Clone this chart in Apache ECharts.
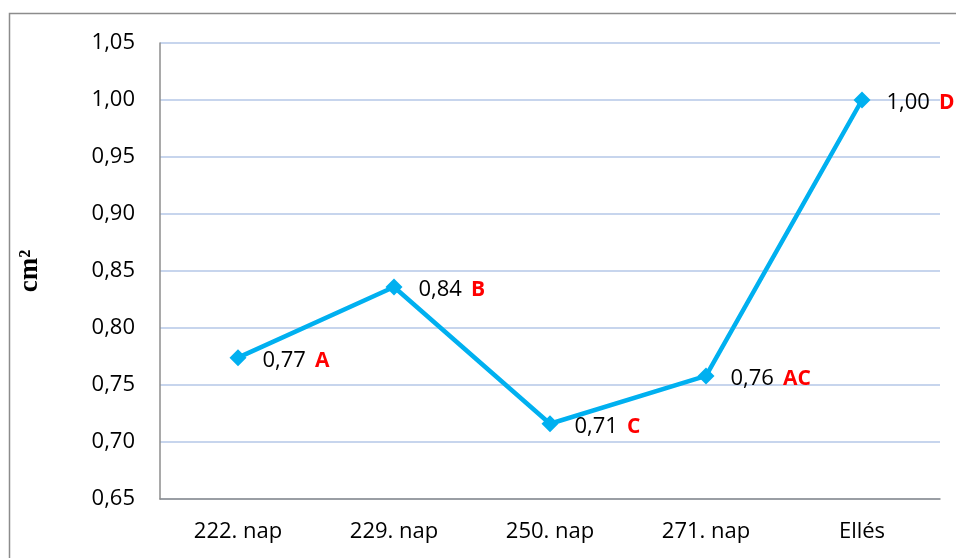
<!DOCTYPE html>
<html><head><meta charset="utf-8">
<script src="https://cdn.jsdelivr.net/npm/echarts@6/dist/echarts.min.js"></script>
<style>html,body{margin:0;padding:0;background:#fff}#c{width:956px;height:558px}</style>
</head><body><div id="c"></div>
<script>
const categories = ['222. nap', '229. nap', '250. nap', '271. nap', 'Ellés'];
const values = [0.774, 0.836, 0.716, 0.758, 1.0];
const valueLabels = ['0,77', '0,84', '0,71', '0,76', '1,00'];
const letters = ['A', 'B', 'C', 'AC', 'D'];
const yTicks = { min: 0.65, max: 1.05, interval: 0.05 };

const chart = echarts.init(document.getElementById('c'), null, { renderer: 'canvas' });
const font = '"Open Sans", "Liberation Sans", sans-serif';
chart.setOption({
  animation: false,
  backgroundColor: '#fff',
  graphic: [{
    type: 'rect', silent: true,
    shape: { x: 9.5, y: 13.5, width: 1000, height: 600 },
    style: { fill: 'none', stroke: '#8c8c8c', lineWidth: 1.5 }
  }],
  grid: { left: 160, right: 16, top: 43, bottom: 59 },
  xAxis: {
    type: 'category', data: categories, boundaryGap: true,
    axisLine: { lineStyle: { color: '#8c8c8c', width: 1.5 } },
    axisTick: { show: false },
    axisLabel: { color: '#000', fontSize: 22, fontFamily: font, margin: 22 }
  },
  yAxis: {
    type: 'value', min: yTicks.min, max: yTicks.max, interval: yTicks.interval,
    name: 'cm²', nameLocation: 'middle', nameGap: 116, nameRotate: 90,
    nameTextStyle: { fontFamily: '"Liberation Serif", serif', fontWeight: 'bold', fontSize: 27, color: '#000' },
    axisLine: { show: true, lineStyle: { color: '#8c8c8c', width: 1.5 } },
    axisTick: { show: false },
    splitLine: { lineStyle: { color: '#b4c7e7', width: 1.5 } },
    axisLabel: { color: '#000', fontSize: 22, fontFamily: font, margin: 25,
      formatter: v => v.toFixed(2).replace('.', ',') }
  },
  series: [{
    type: 'line', data: values,
    symbol: 'diamond', symbolSize: 17,
    lineStyle: { color: '#00b0f0', width: 4.5 },
    itemStyle: { color: '#00b0f0' },
    label: {
      show: true, position: 'right', distance: 16, offset: [0, 3],
      formatter: p => '{v|' + valueLabels[p.dataIndex] + '}{l|' + letters[p.dataIndex] + '}',
      rich: {
        v: { color: '#000', fontSize: 22, fontFamily: font },
        l: { color: '#ff0000', fontSize: 21, fontWeight: 'bold', fontFamily: font, padding: [0, 0, 0, 9] }
      }
    }
  }]
});
</script></body></html>
